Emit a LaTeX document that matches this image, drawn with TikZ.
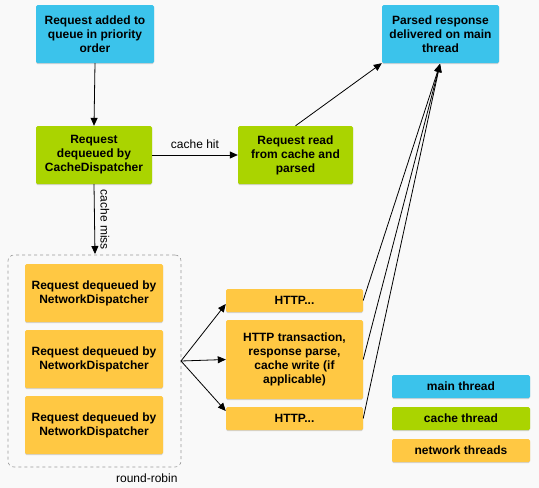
\documentclass[tikz,border=0pt]{standalone}
\usepackage{fontspec}
\setmainfont{Liberation Sans}
\usetikzlibrary{arrows.meta,shadows,calc}
\definecolor{mainblue}{HTML}{3BC3EB}
\definecolor{cachegreen}{HTML}{AAD400}
\definecolor{netorange}{HTML}{FFC843}
\definecolor{bgcol}{HTML}{F9F9F9}
\definecolor{dashgray}{HTML}{9A9A9A}
\tikzset{
  box/.style={rectangle, rounded corners=1.5pt, align=center, inner sep=0pt,
    font=\fontsize{12}{14}\selectfont\bfseries,
    drop shadow={shadow xshift=0pt, shadow yshift=-1pt, opacity=0.15, fill=black}},
  mainbox/.style={box, fill=mainblue},
  cachebox/.style={box, fill=cachegreen},
  netbox/.style={box, fill=netorange},
  conn/.style={draw=black, line width=0.8pt, -{Triangle[length=8pt,width=7pt]}},
  lbl/.style={font=\fontsize{12}{14}\selectfont},
}
\begin{document}
\begin{tikzpicture}[x=1pt,y=-1pt]
\fill[bgcol] (0,0) rectangle (539,488);
\useasboundingbox (0,0) rectangle (539,488);

% group
\node[draw=dashgray, dashed, line width=0.6pt, rounded corners=6pt, minimum width=173pt, minimum height=212pt, inner sep=0pt] (grp) at (94.5,361) {};
\node[lbl, anchor=north east] (rr) at (181,470) {round-robin};

\node[mainbox, minimum width=118pt, minimum height=58pt] (b1) at (95,34) {Request added to\\queue in priority\\order};
\node[cachebox, minimum width=116pt, minimum height=58pt] (b2) at (94,155) {Request\\dequeued by\\CacheDispatcher};
\node[cachebox, minimum width=115pt, minimum height=58pt] (b3) at (295.5,155) {Request read\\from cache and\\parsed};
\node[mainbox, minimum width=117pt, minimum height=58pt] (b4) at (440.5,34) {Parsed response\\delivered on main\\thread};

\node[netbox, minimum width=138pt, minimum height=58pt] (n1) at (94,293) {Request dequeued by\\NetworkDispatcher};
\node[netbox, minimum width=138pt, minimum height=58pt] (n2) at (94,359) {Request dequeued by\\NetworkDispatcher};
\node[netbox, minimum width=138pt, minimum height=58pt] (n3) at (94,425) {Request dequeued by\\NetworkDispatcher};

\node[netbox, minimum width=137pt, minimum height=23pt] (h1) at (294.5,300.5) {HTTP...};
\node[netbox, minimum width=137pt, minimum height=79pt] (h2) at (294.5,359.5) {HTTP transaction,\\response parse,\\cache write (if\\applicable)};
\node[netbox, minimum width=137pt, minimum height=23pt] (h3) at (294.5,418.5) {HTTP...};

\node[mainbox, minimum width=138pt, minimum height=23pt] (l1) at (461,386.5) {main thread};
\node[cachebox, minimum width=138pt, minimum height=23pt] (l2) at (461,418.5) {cache thread};
\node[netbox, minimum width=138pt, minimum height=23pt] (l3) at (461,450.5) {network threads};

\coordinate (gtop) at (95,254);
\coordinate (fork) at (181,361);
\coordinate (tip) at (440,64);

\draw[conn] (b1.south) -- (b2.north);
\draw[conn] (b2.east) -- node[lbl, above=3pt] {cache hit} (b3.west);
\draw[conn] (b3.north) -- (b4.south west);
\draw[conn] (b2.south) -- (gtop);
\node[lbl, rotate=-90, inner sep=0pt] (cm) at (105,220) {cache miss};

\draw[conn] (fork) -- ([yshift=-3.5pt]h1.west);
\draw[conn] (fork) -- (h2.west);
\draw[conn] (fork) -- ([yshift=7.5pt]h3.west);

\draw[conn] (h1.east) -- (tip);
\draw[conn] (h2.east) -- (tip);
\draw[conn] (h3.east) -- (tip);
\end{tikzpicture}
\end{document}
